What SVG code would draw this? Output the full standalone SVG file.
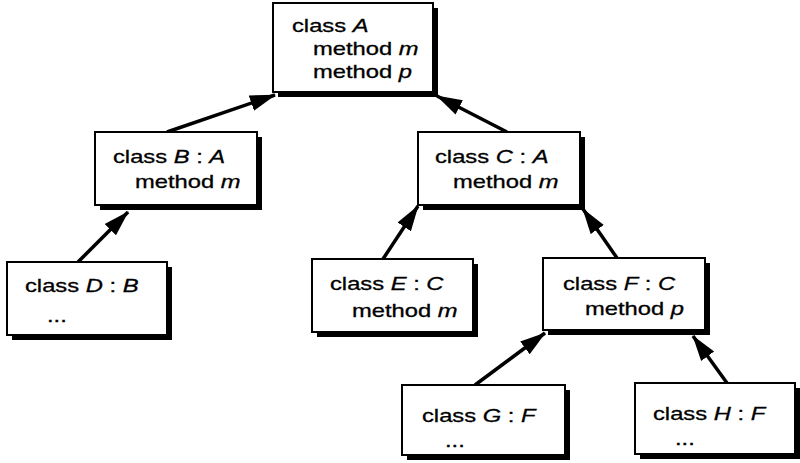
<svg xmlns="http://www.w3.org/2000/svg" width="800" height="463" viewBox="0 0 800 463">
<style>
.sh{fill:#000}
.bx{fill:#fff;stroke:#000;stroke-width:2}
text{font-family:"Liberation Sans",Arial,sans-serif;font-size:19px;fill:#000;stroke:#000;stroke-width:0.3}
.i{font-style:italic}
.cn{stroke:#000;stroke-width:3.5;fill:none;marker-end:url(#ah)}
</style>
<defs>
<marker id="ah" markerUnits="userSpaceOnUse" markerWidth="28" markerHeight="18" refX="25" refY="9" orient="auto">
<path d="M0,1 L26,9 L0,17 z" fill="#000"/>
</marker>
</defs>
<rect width="800" height="463" fill="#fff"/>
<g id="connectors">
<line class="cn" x1="167" y1="132" x2="275" y2="95"/>
<line class="cn" x1="507" y1="132" x2="437" y2="96"/>
<line class="cn" x1="78" y1="262" x2="128" y2="212"/>
<line class="cn" x1="383" y1="259" x2="418" y2="206"/>
<line class="cn" x1="617" y1="258" x2="583" y2="209"/>
<line class="cn" x1="475" y1="385" x2="545" y2="333"/>
<line class="cn" x1="727" y1="383" x2="693" y2="336"/>
</g>
<g id="A">
<rect class="sh" x="278" y="8" width="160" height="89"/>
<rect class="bx" x="273" y="3" width="160" height="89"/>
<text transform="translate(292,32) scale(1.25,1)">class <tspan class="i">A</tspan></text>
<text transform="translate(313,55) scale(1.25,1)">method <tspan class="i">m</tspan></text>
<text transform="translate(313,78) scale(1.25,1)">method <tspan class="i">p</tspan></text>
</g>
<g id="B">
<rect class="sh" x="100" y="137" width="162" height="73"/>
<rect class="bx" x="95" y="132" width="162" height="73"/>
<text transform="translate(113,163) scale(1.25,1)">class <tspan class="i">B</tspan> : <tspan class="i">A</tspan></text>
<text transform="translate(135,188) scale(1.25,1)">method <tspan class="i">m</tspan></text>
</g>
<g id="C">
<rect class="sh" x="423" y="137" width="162" height="73"/>
<rect class="bx" x="418" y="132" width="162" height="73"/>
<text transform="translate(435,163) scale(1.25,1)">class <tspan class="i">C</tspan> : <tspan class="i">A</tspan></text>
<text transform="translate(453,188) scale(1.25,1)">method <tspan class="i">m</tspan></text>
</g>
<g id="D">
<rect class="sh" x="12" y="267" width="160" height="73"/>
<rect class="bx" x="7" y="262" width="160" height="73"/>
<text transform="translate(25,292) scale(1.25,1)">class <tspan class="i">D</tspan> : <tspan class="i">B</tspan></text>
<text transform="translate(47,322) scale(1.25,1)">...</text>
</g>
<g id="E">
<rect class="sh" x="317" y="264" width="161" height="73"/>
<rect class="bx" x="312" y="259" width="161" height="73"/>
<text transform="translate(330,290) scale(1.25,1)">class <tspan class="i">E</tspan> : <tspan class="i">C</tspan></text>
<text transform="translate(352,317) scale(1.25,1)">method <tspan class="i">m</tspan></text>
</g>
<g id="F">
<rect class="sh" x="548" y="263" width="162" height="72"/>
<rect class="bx" x="543" y="258" width="162" height="72"/>
<text transform="translate(563,290) scale(1.25,1)">class <tspan class="i">F</tspan> : <tspan class="i">C</tspan></text>
<text transform="translate(585,315) scale(1.25,1)">method <tspan class="i">p</tspan></text>
</g>
<g id="G">
<rect class="sh" x="407" y="390" width="163" height="70"/>
<rect class="bx" x="402" y="385" width="163" height="70"/>
<text transform="translate(422,422) scale(1.25,1)">class <tspan class="i">G</tspan> : <tspan class="i">F</tspan></text>
<text transform="translate(445,447) scale(1.25,1)">...</text>
</g>
<g id="H">
<rect class="sh" x="640" y="388" width="160" height="71"/>
<rect class="bx" x="635" y="383" width="160" height="71"/>
<text transform="translate(653,420) scale(1.25,1)">class <tspan class="i">H</tspan> : <tspan class="i">F</tspan></text>
<text transform="translate(675,445) scale(1.25,1)">...</text>
</g>
</svg>
